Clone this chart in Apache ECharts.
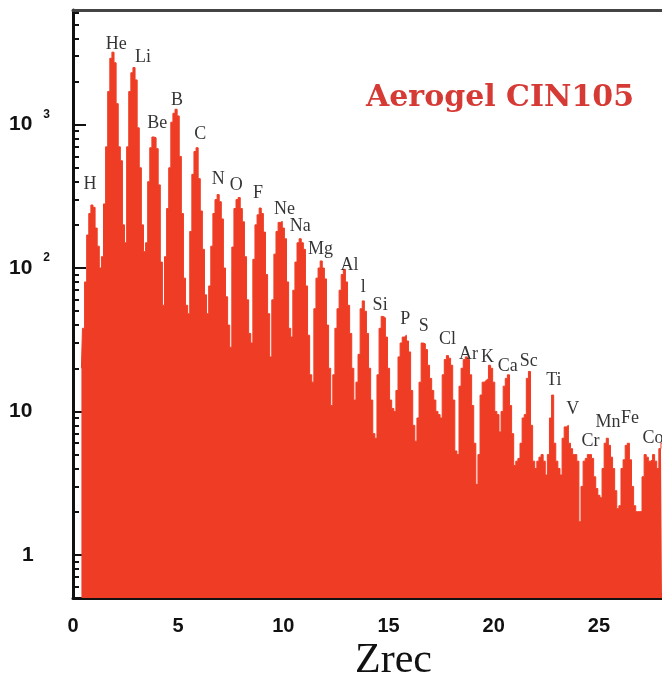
<!DOCTYPE html>
<html>
<head>
<meta charset="utf-8">
<title>Aerogel CIN105</title>
<script src="https://cdn.jsdelivr.net/npm/echarts@6/dist/echarts.min.js"></script>
<style>
  html, body { margin: 0; padding: 0; background: #fff; }
  #main { width: 662px; height: 684px; }
</style>
</head>
<body>
<div id="main"></div>
<script>
// histogram of reconstructed charge, bins 0.1 wide, first bin centred at Zrec = 0.4
var binStart = 0.4;
var binWidth = 0.1;
var counts = [
  20, 38, 80, 170, 240, 275,                                  // 0.4 - 0.9
  265, 190, 142, 100, 120, 280, 700, 1700, 2900, 3200,        // 1.x
  2700, 1400, 700, 560, 200, 150, 700, 1700, 2300, 2500,      // 2.x
  2050, 950, 500, 200, 130, 150, 400, 690, 820, 810,          // 3.x
  680, 380, 110, 55, 120, 260, 500, 1040, 1200, 1280,         // 4.x
  1150, 600, 240, 85, 55, 48, 180, 450, 650, 690,             // 5.x
  420, 250, 135, 65, 48, 75, 142, 240, 300, 325,              // 6.x
  290, 220, 100, 63, 40, 28, 140, 260, 300, 310,              // 7.x
  260, 210, 120, 60, 35, 30, 115, 200, 235, 262,              // 8.x
  240, 178, 90, 48, 24, 60, 125, 180, 208, 211,               // 9.x
  190, 160, 80, 38, 33, 70, 110, 150, 160, 150,               // 10.x
  135, 75, 34, 18, 16, 52, 85, 100, 112, 100,                 // 11.x
  84, 40, 20, 11, 18, 38, 52, 70, 90, 98,                     // 12.x
  80, 55, 35, 20, 12, 16, 25, 52, 59, 50,                     // 13.x
  35, 20, 12, 7, 6.5, 18, 38, 46, 45, 33,                     // 14.x
  20, 12, 10.5, 10, 14, 24, 30, 33, 34, 31,                   // 15.x
  26, 14, 8, 6.2, 9, 16, 30, 29.6, 27, 21,                    // 16.x
  17, 14, 12, 10, 9.5, 9, 18, 23, 24.5, 23.5,                 // 17.x
  21, 12, 5.3, 5, 15, 20, 23, 24, 23, 18,                     // 18.x
  11, 6, 3.1, 5, 13, 16, 16.5, 17, 21, 20,                    // 19.x
  16, 10, 9.5, 7.2, 10, 15, 17, 18, 11, 7,                    // 20.x
  4.2, 4.5, 4.7, 6, 9, 9.5, 17, 19, 8, 4.5,                   // 21.x
  4, 4.5, 4.8, 5, 4.5, 3.6, 5, 9, 13, 6,                      // 22.x
  4.5, 4, 3.6, 6.5, 7.8, 8, 6, 5.5, 5, 5,                     // 23.x
  4.5, 1.7, 3, 4.5, 4.7, 5, 5, 4.7, 3.5, 2.9,                 // 24.x
  2.6, 2.5, 4, 6, 6.5, 5.8, 4.8, 4, 2.8, 2.1,                 // 25.x
  2.2, 4, 4.6, 5.8, 6, 4.6, 3, 2.2, 2, 2,                     // 26.x
  2, 3.5, 5, 4.8, 4.5, 4.6, 5, 4.5, 4, 5.5,                   // 27.x
  6                                                           // 28.0
];

// element names written over the peaks (position in Zrec / counts)
var elements = ['H', 'He', 'Li', 'Be', 'B', 'C', 'N', 'O', 'F', 'Ne', 'Na', 'Mg', 'Al', 'l', 'Si',
  'P', 'S', 'Cl', 'Ar', 'K', 'Ca', 'Sc', 'Ti', 'V', 'Cr', 'Mn', 'Fe', 'Co'];
var elementZ = [0.81, 2.05, 3.33, 4.0, 4.95, 6.05, 6.9, 7.76, 8.8, 10.05, 10.8, 11.76, 13.14, 13.8, 14.6,
  15.8, 16.67, 17.8, 18.8, 19.7, 20.67, 21.67, 22.86, 23.76, 24.6, 25.43, 26.48, 27.57];
var elementY = [382, 3650, 2960, 1020, 1490, 850, 415, 375, 332, 257, 195, 136, 105, 74, 55,
  44, 39, 32, 25, 24, 20.5, 22.5, 16.4, 10.3, 6.2, 8.4, 8.9, 6.5];

// axis ticks
var yMajor = [1, 10, 100, 1000];
var yMinor = [0.6, 0.7, 0.8, 0.9, 2, 3, 4, 5, 6, 7, 8, 9, 20, 30, 40, 50, 60, 70, 80, 90,
  200, 300, 400, 500, 600, 700, 800, 900, 2000, 3000, 4000, 5000, 6000];
var xMajor = [0, 5, 10, 15, 20, 25];

var histData = counts.map(function (c, i) {
  return [+(binStart + i * binWidth).toFixed(1), c];
});

var chart = echarts.init(document.getElementById('main'));
var ink = '#111';
var fill = '#ef3d25';

chart.setOption({
  animation: false,
  backgroundColor: '#fff',
  grid: { left: 73, right: 0, top: 10, bottom: 86 },
  title: [
    {
      text: 'Aerogel CIN105', left: 366, top: 83, padding: 0,
      textStyle: { fontFamily: 'DejaVu Serif', fontWeight: 'bold', fontSize: 30, color: '#d63a35' }
    },
    {
      text: 'Zrec', left: 355, top: 640, padding: 0,
      textStyle: { fontFamily: 'Liberation Serif', fontWeight: 'normal', fontSize: 42, color: ink }
    }
  ],
  xAxis: [
    {
      type: 'value', min: 0, max: 28, position: 'bottom',
      axisLine: { lineStyle: { color: ink, width: 3 } },
      axisTick: { inside: true, length: 12, customValues: xMajor, lineStyle: { color: ink, width: 2 } },
      axisLabel: {
        customValues: xMajor, margin: 18, color: ink,
        fontFamily: 'Liberation Sans', fontWeight: 'bold', fontSize: 20
      },
      splitLine: { show: false }
    },
    {
      // minor ticks at every integer
      type: 'value', min: 0, max: 28, interval: 1, position: 'bottom',
      axisLine: { show: false },
      axisTick: { inside: true, length: 5, lineStyle: { color: ink, width: 2 } },
      axisLabel: { show: false },
      splitLine: { show: false }
    },
    {
      // top frame
      type: 'value', min: 0, max: 28, position: 'top',
      axisLine: { lineStyle: { color: '#444', width: 3 } },
      axisTick: { show: false }, axisLabel: { show: false }, splitLine: { show: false }
    }
  ],
  yAxis: [
    {
      type: 'log', min: 0.5, max: 6300, position: 'left',
      axisLine: { show: true, lineStyle: { color: ink, width: 3 } },
      axisTick: { show: true, inside: true, length: 13, customValues: yMajor, lineStyle: { color: ink, width: 2 } },
      axisLabel: {
        customValues: yMajor, align: 'left', margin: 64,
        formatter: function (v) {
          var e = Math.round(Math.log10(v));
          if (e === 0) return '{one|1}';
          if (e === 1) return '{b|10}';
          return '{b|10}{s|' + e + '}';
        },
        rich: {
          b: { fontFamily: 'Liberation Sans', fontWeight: 'bold', fontSize: 21, color: ink },
          one: { fontFamily: 'Liberation Sans', fontWeight: 'bold', fontSize: 21, color: ink, padding: [0, 0, 0, 13] },
          s: { fontFamily: 'Liberation Sans', fontWeight: 'bold', fontSize: 12, lineHeight: 12, color: ink, padding: [0, 0, 20, 11] }
        }
      },
      splitLine: { show: false }
    },
    {
      type: 'log', min: 0.5, max: 6300, position: 'left',
      axisLine: { show: false },
      axisTick: { show: true, inside: true, length: 6, customValues: yMinor, lineStyle: { color: ink, width: 2 } },
      axisLabel: { show: false },
      splitLine: { show: false }
    }
  ],
  series: [
    {
      type: 'line', step: 'middle', data: histData,
      symbol: 'none', silent: true, z: 2,
      lineStyle: { color: fill, width: 1 },
      areaStyle: { color: fill, opacity: 1, origin: 'start' }
    },
    {
      type: 'scatter', silent: true, z: 5,
      symbolSize: 0.1, itemStyle: { color: 'transparent' },
      data: elements.map(function (n, i) { return { name: n, value: [elementZ[i], elementY[i]] }; }),
      label: {
        show: true, position: 'inside', formatter: '{b}', color: '#000',
        fontFamily: 'Liberation Serif', fontSize: 18
      }
    }
  ]
});
</script>
</body>
</html>
